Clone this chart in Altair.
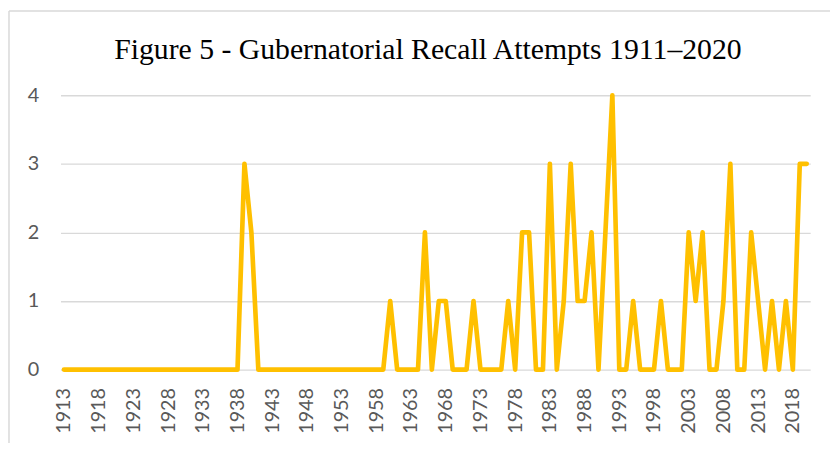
import altair as alt
import pandas as pd

years = list(range(1913, 2021))
recalls = (
    [0] * 26            # 1913-1938
    + [3, 2]            # 1939-1940
    + [0] * 19          # 1941-1959
    + [1, 0, 0, 0, 0]   # 1960-1964
    + [2, 0, 1, 1, 0, 0, 0]  # 1965-1971
    + [1, 0, 0, 0, 0]   # 1972-1976
    + [1, 0, 2, 2, 0, 0]  # 1977-1982
    + [3, 0, 1, 3, 1, 1, 2, 0, 2, 4]  # 1983-1992
    + [0, 0, 1, 0, 0, 0, 1, 0, 0, 0]  # 1993-2002
    + [2, 1, 2, 0, 0, 1, 3, 0, 0, 2]  # 2003-2012
    + [1, 0, 1, 0, 1, 0, 3, 3]        # 2013-2020
)
tick_years = list(range(1913, 2021, 5))
y_ticks = [0, 1, 2, 3, 4]
title_text = "Figure 5 - Gubernatorial Recall Attempts 1911\u20132020"

df = pd.DataFrame({"year": years, "recalls": recalls})

W, H = 757, 277
GRAY = "#595959"
GRID = "#D9D9D9"

line = alt.Chart(df).mark_line(
    color="#FFC000", strokeWidth=4.7, strokeJoin="round", strokeCap="round"
).encode(
    x=alt.X(
        "year:O",
        scale=alt.Scale(type="point", padding=0.5),
        axis=alt.Axis(
            values=tick_years, labelAngle=-90, labelAlign="right", labelBaseline="middle",
            labelFont="Lato", labelFontSize=20, labelColor=GRAY, labelPadding=18,
            ticks=False, domain=False, grid=False, title=None,
        ),
    ),
    y=alt.Y(
        "recalls:Q",
        scale=alt.Scale(domain=[0, 4], nice=False),
        axis=alt.Axis(
            values=y_ticks, labelFont="Lato", labelFontSize=20, labelColor=GRAY,
            labelPadding=22, ticks=False, domain=False, grid=True, gridColor=GRID,
            gridWidth=1.3, title=None,
        ),
    ),
)

title = alt.Chart(pd.DataFrame({"t": [title_text]})).mark_text(
    font="Liberation Serif", fontSize=30, color="#000000", align="center", baseline="alphabetic"
).encode(text="t:N", x=alt.value(371), y=alt.value(-37))

frame_df = pd.DataFrame({"a": [0]})
left_edge = alt.Chart(frame_df).mark_rule(color=GRID, strokeWidth=1.5).encode(
    x=alt.value(-52), y=alt.value(-85), y2=alt.value(500)
)
top_edge = alt.Chart(frame_df).mark_rule(color=GRID, strokeWidth=1.5).encode(
    x=alt.value(-52), x2=alt.value(900), y=alt.value(-85)
)

chart = alt.layer(left_edge, top_edge, line, title).properties(
    width=W, height=H,
    autosize=alt.AutoSizeParams(type="none"),
    padding={"left": 53, "top": 86, "right": 20, "bottom": 72},
).configure_view(stroke=None)

chart.save("out.html", embed_options={"renderer": "svg", "actions": False})
